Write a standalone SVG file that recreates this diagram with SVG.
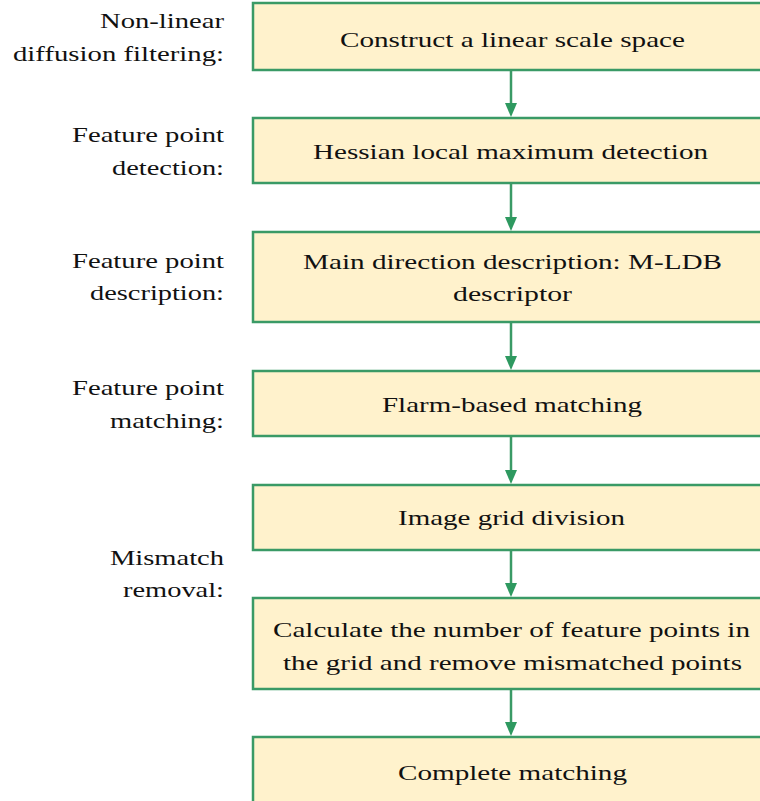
<svg xmlns="http://www.w3.org/2000/svg" width="760" height="801" viewBox="0 0 760 801">
<defs>
<style>
.box{fill:#FFF2CC;stroke:#3A9A66;stroke-width:2.5}
.ln{stroke:#3A9A66;stroke-width:2.5;fill:none}
.ah{fill:#2E9960}
text{font-family:"Liberation Serif","Times New Roman","DejaVu Serif",serif;font-size:21px;fill:#111}
</style>
</defs>
<rect width="760" height="801" fill="#fff"/>
<g id="labels">
<text x="100" y="28" textLength="124" lengthAdjust="spacingAndGlyphs">Non-linear</text>
<text x="13" y="61" textLength="211" lengthAdjust="spacingAndGlyphs">diffusion filtering:</text>
<text x="72" y="142" textLength="152" lengthAdjust="spacingAndGlyphs">Feature point</text>
<text x="112" y="175" textLength="112" lengthAdjust="spacingAndGlyphs">detection:</text>
<text x="72" y="268" textLength="152" lengthAdjust="spacingAndGlyphs">Feature point</text>
<text x="90" y="300" textLength="134" lengthAdjust="spacingAndGlyphs">description:</text>
<text x="72" y="395" textLength="152" lengthAdjust="spacingAndGlyphs">Feature point</text>
<text x="110" y="428" textLength="114" lengthAdjust="spacingAndGlyphs">matching:</text>
<text x="110" y="565" textLength="114" lengthAdjust="spacingAndGlyphs">Mismatch</text>
<text x="123" y="597" textLength="101" lengthAdjust="spacingAndGlyphs">removal:</text>
</g>
<g id="n1"><rect class="box" x="253" y="3" width="516" height="67"/><text x="340" y="47" textLength="345" lengthAdjust="spacingAndGlyphs">Construct a linear scale space</text></g>
<g id="n2"><rect class="box" x="253" y="118" width="516" height="65"/><text x="313" y="159" textLength="395" lengthAdjust="spacingAndGlyphs">Hessian local maximum detection</text></g>
<g id="n3"><rect class="box" x="253" y="232" width="516" height="90"/><text x="303" y="269" textLength="419" lengthAdjust="spacingAndGlyphs">Main direction description: M-LDB</text><text x="453" y="301" textLength="119" lengthAdjust="spacingAndGlyphs">descriptor</text></g>
<g id="n4"><rect class="box" x="253" y="371" width="516" height="65"/><text x="382" y="412" textLength="260" lengthAdjust="spacingAndGlyphs">Flarm-based matching</text></g>
<g id="n5"><rect class="box" x="253" y="485" width="516" height="65"/><text x="398" y="525" textLength="227" lengthAdjust="spacingAndGlyphs">Image grid division</text></g>
<g id="n6"><rect class="box" x="253" y="598" width="516" height="91"/><text x="273" y="637" textLength="477" lengthAdjust="spacingAndGlyphs">Calculate the number of feature points in</text><text x="283" y="670" textLength="459" lengthAdjust="spacingAndGlyphs">the grid and remove mismatched points</text></g>
<g id="n7"><rect class="box" x="253" y="737" width="516" height="80"/><text x="398" y="780" textLength="229" lengthAdjust="spacingAndGlyphs">Complete matching</text></g>
<g id="connectors">
<line class="ln" x1="511" y1="70" x2="511" y2="104"/><polygon class="ah" points="505,103 517,103 511,117"/>
<line class="ln" x1="511" y1="183" x2="511" y2="218"/><polygon class="ah" points="505,217 517,217 511,231"/>
<line class="ln" x1="511" y1="322" x2="511" y2="357"/><polygon class="ah" points="505,356 517,356 511,370"/>
<line class="ln" x1="511" y1="436" x2="511" y2="471"/><polygon class="ah" points="505,470 517,470 511,484"/>
<line class="ln" x1="511" y1="550" x2="511" y2="584"/><polygon class="ah" points="505,583 517,583 511,597"/>
<line class="ln" x1="511" y1="689" x2="511" y2="723"/><polygon class="ah" points="505,722 517,722 511,736"/>
</g>
</svg>
